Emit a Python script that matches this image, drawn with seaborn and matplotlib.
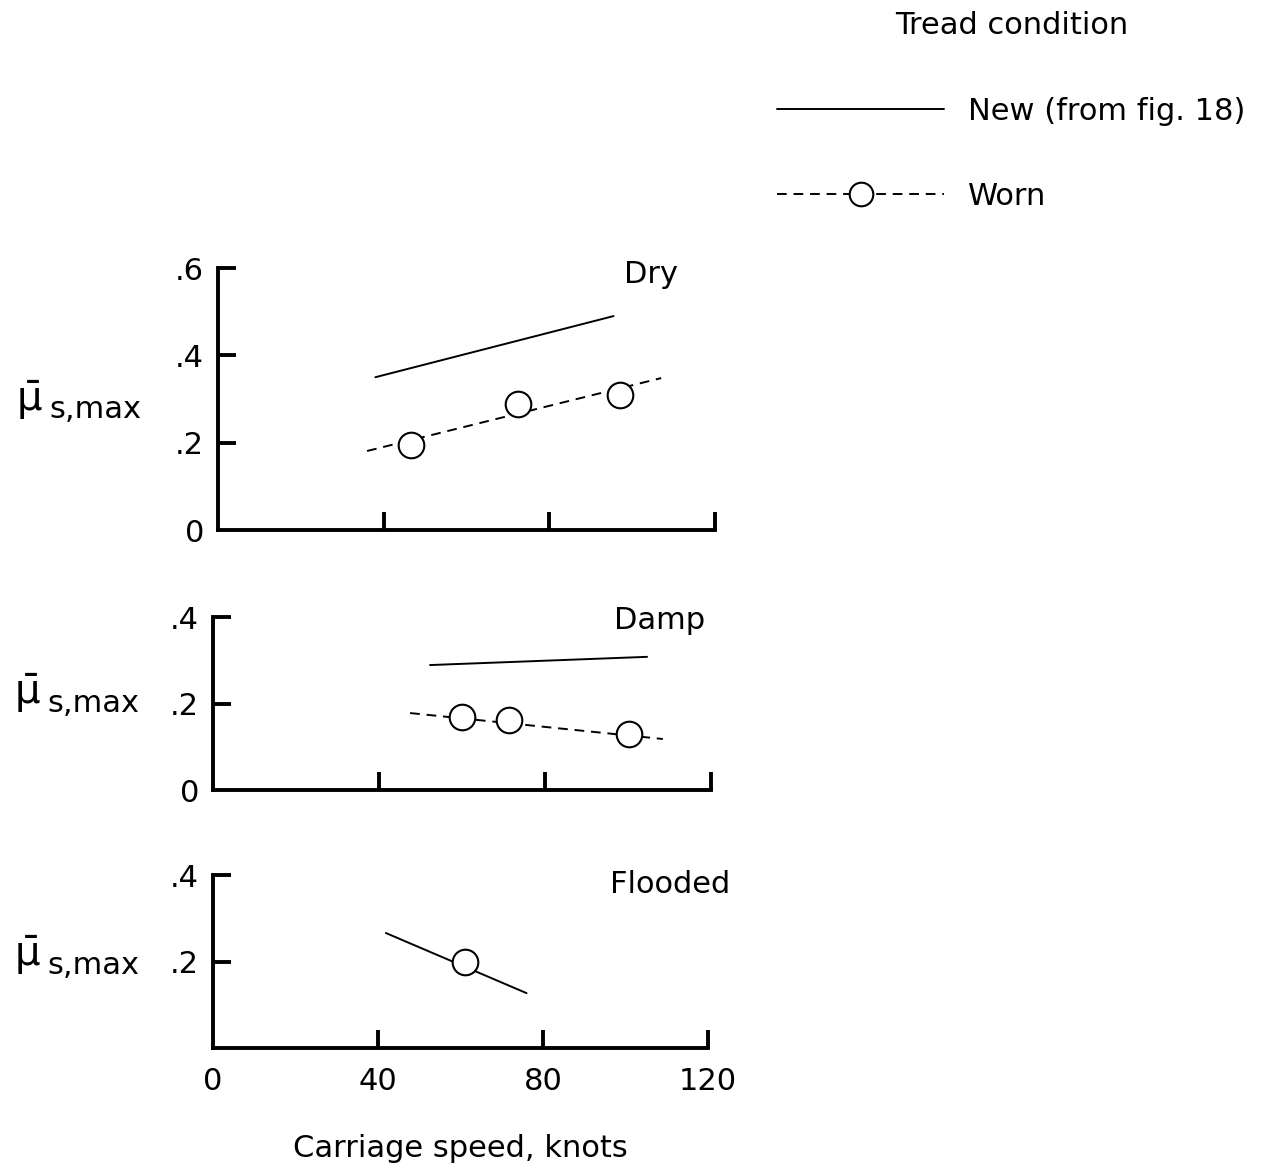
import matplotlib
matplotlib.use("Agg")
import matplotlib.pyplot as plt
from matplotlib.lines import Line2D
import seaborn as sns

# ==== Data ====
speed_ticks = [40, 80, 120]

dry_new_x = [38, 95.5]
dry_new_y = [0.350, 0.490]
dry_worn_fit_x = [36, 107]
dry_worn_fit_y = [0.181, 0.348]
dry_worn_x = [46.6, 72.5, 97.1]
dry_worn_y = [0.195, 0.289, 0.309]

damp_new_x = [52.3, 104.6]
damp_new_y = [0.289, 0.308]
damp_worn_fit_x = [47.5, 108.4]
damp_worn_fit_y = [0.178, 0.118]
damp_worn_x = [60.0, 71.3, 100.2]
damp_worn_y = [0.169, 0.162, 0.129]

flood_new_x = [41.9, 76.0]
flood_new_y = [0.266, 0.127]
flood_worn_x = [61.0]
flood_worn_y = [0.199]

FS = 22
LW = 1.4
DASH = (5, 3.5)

sns.set_style("ticks")
plt.rcParams["font.family"] = ["DejaVu Sans"]
plt.rcParams["mathtext.fontset"] = "dejavusans"
for k in ["text.color", "axes.labelcolor", "xtick.color", "ytick.color", "axes.edgecolor"]:
    plt.rcParams[k] = "black"

fig = plt.figure(figsize=(12.68, 11.68), dpi=100)
ax1 = fig.add_axes([0.1719, 0.5462, 0.392, 0.2243])
ax2 = fig.add_axes([0.1680, 0.3236, 0.3927, 0.1481])
ax3 = fig.add_axes([0.1680, 0.1027, 0.3904, 0.1481])


def style_axis(ax, ymax, yticks, ylabels, bottom=False):
    ax.set_xlim(0, 120)
    ax.set_ylim(0, ymax)
    for s in ["top", "right"]:
        ax.spines[s].set_visible(False)
    for s in ["left", "bottom"]:
        ax.spines[s].set_linewidth(2.8)
    ax.tick_params(direction="in", length=13, width=2.8, labelsize=FS, pad=10)
    if bottom:
        ax.set_xticks([0] + speed_ticks)
        ax.set_xticklabels(["0"] + [str(t) for t in speed_ticks])
        ax.xaxis.get_major_ticks()[0].tick1line.set_visible(False)
        ax.tick_params(axis="x", pad=14)
        ax.set_xlabel("Carriage speed, knots", fontsize=FS, labelpad=27)
    else:
        ax.set_xticks(speed_ticks)
        ax.set_xticklabels([])
        ax.set_xlabel("")
    ax.set_yticks(yticks)
    ax.set_yticklabels(ylabels)
    if yticks[0] == 0:
        ax.yaxis.get_major_ticks()[0].tick1line.set_visible(False)
    ax.set_ylabel("")


def mu_label(y_px, x_px=20):
    # mu-bar raised, "s,max" a bit lower, as in the original lettering
    fig.text(x_px / 1268, 1 - (y_px - 10) / 1168, r"$\bar{\mathrm{\mu}}$",
             fontsize=FS + 7, ha="left", va="center")
    fig.text((x_px + 33) / 1268, 1 - y_px / 1168, "s,max",
             fontsize=FS, ha="left", va="center")


def worn_points(ax, x, y):
    sns.scatterplot(x=x, y=y, ax=ax, s=340, marker="o", color="white",
                    edgecolor="black", linewidth=1.5, zorder=3, legend=False)


# Dry
sns.lineplot(x=dry_new_x, y=dry_new_y, ax=ax1, color="black", lw=LW)
sns.lineplot(x=dry_worn_fit_x, y=dry_worn_fit_y, ax=ax1, color="black", lw=LW)
ax1.lines[-1].set_dashes(DASH)
worn_points(ax1, dry_worn_x, dry_worn_y)
style_axis(ax1, 0.6, [0, 0.2, 0.4, 0.6], ["0", ".2", ".4", ".6"])
ax1.text(111, 0.585, "Dry", ha="right", va="center", fontsize=FS)
mu_label(410, 16)

# Damp
sns.lineplot(x=damp_new_x, y=damp_new_y, ax=ax2, color="black", lw=LW)
sns.lineplot(x=damp_worn_fit_x, y=damp_worn_fit_y, ax=ax2, color="black", lw=LW)
ax2.lines[-1].set_dashes(DASH)
worn_points(ax2, damp_worn_x, damp_worn_y)
style_axis(ax2, 0.4, [0, 0.2, 0.4], ["0", ".2", ".4"])
ax2.text(118.6, 0.393, "Damp", ha="right", va="center", fontsize=FS)
mu_label(703, 14)

# Flooded
sns.lineplot(x=flood_new_x, y=flood_new_y, ax=ax3, color="black", lw=LW)
worn_points(ax3, flood_worn_x, flood_worn_y)
style_axis(ax3, 0.4, [0.2, 0.4], [".2", ".4"], bottom=True)
ax3.text(125.3, 0.379, "Flooded", ha="right", va="center", fontsize=FS)
mu_label(965, 14)

# Legend
h_new = Line2D([], [], color="black", lw=LW)
h_worn = Line2D([], [], color="black", lw=LW, dashes=DASH, marker="o",
                markersize=17, markerfacecolor="white", markeredgecolor="black",
                markeredgewidth=1.5)
fig.legend([h_new, h_worn], ["New (from fig. 18)", "Worn"], title="Tread condition",
           loc="upper left", bbox_to_anchor=(762 / 1268, 1 + 4 / 1168),
           frameon=False, handlelength=5.45, handletextpad=0.8, labelspacing=1.84,
           borderpad=0, fontsize=FS, title_fontsize=FS, numpoints=1)

fig.savefig("out.png", dpi=100, facecolor="white")
